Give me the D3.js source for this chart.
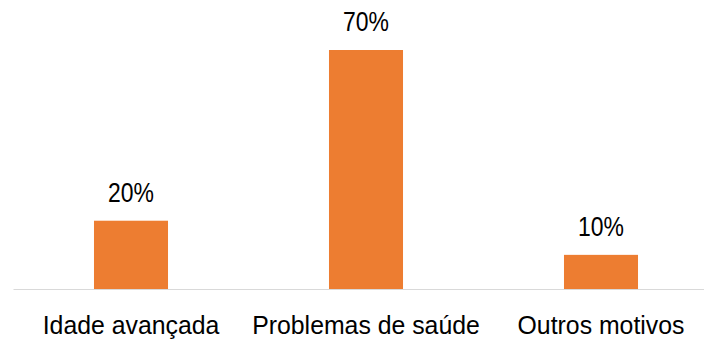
<!DOCTYPE html>
<html>
<head>
<meta charset="utf-8">
<script src="https://cdn.jsdelivr.net/npm/d3@7"></script>
<style>
  html, body { margin: 0; padding: 0; background: #fff; }
  svg { display: block; }
  text { font-family: "Liberation Sans", Arial, sans-serif; fill: #000; }
</style>
</head>
<body>
<svg id="chart" width="704" height="342"></svg>
<script>
// Motivos e percentagens
const categories = ["Idade avançada", "Problemas de saúde", "Outros motivos"];
const values = [20, 70, 10];
const valueLabels = ["20%", "70%", "10%"];

const svg = d3.select("#chart");
const baseY = 289;

const x = d3.scaleBand()
  .domain(categories)
  .range([13.5, 718.5])
  .paddingInner(0.685)
  .paddingOuter(0.3425);

const y = d3.scaleLinear()
  .domain([0, 70])
  .range([baseY, 50]);

// Barras
svg.append("g")
  .selectAll("rect")
  .data(categories)
  .join("rect")
  .attr("x", d => x(d))
  .attr("y", (d, i) => y(values[i]))
  .attr("width", x.bandwidth())
  .attr("height", (d, i) => baseY - y(values[i]))
  .attr("fill", "#ED7D31");

// Eixo horizontal
const axis = svg.append("g")
  .attr("transform", `translate(0,${baseY})`)
  .call(d3.axisBottom(x).tickSize(0).tickPadding(0));
axis.select(".domain")
  .attr("d", "M13.5,0.5H704")
  .attr("stroke", "#D9D9D9")
  .attr("stroke-width", 1);
axis.selectAll(".tick text")
  .attr("y", null)
  .attr("dy", null)
  .attr("transform", "translate(0,45) scale(0.955,1)")
  .style("font-size", "26px")
  .style("font-family", "'Liberation Sans', Arial, sans-serif")
  .attr("fill", "#000");

// Rótulos de valor (ligeiramente condensados)
svg.append("g")
  .selectAll("text")
  .data(categories)
  .join("text")
  .attr("transform", (d, i) =>
    `translate(${x(d) + x.bandwidth() / 2},${y(values[i]) - 19}) scale(0.82,1)`)
  .attr("text-anchor", "middle")
  .style("font-size", "28px")
  .text((d, i) => valueLabels[i]);
</script>
</body>
</html>
